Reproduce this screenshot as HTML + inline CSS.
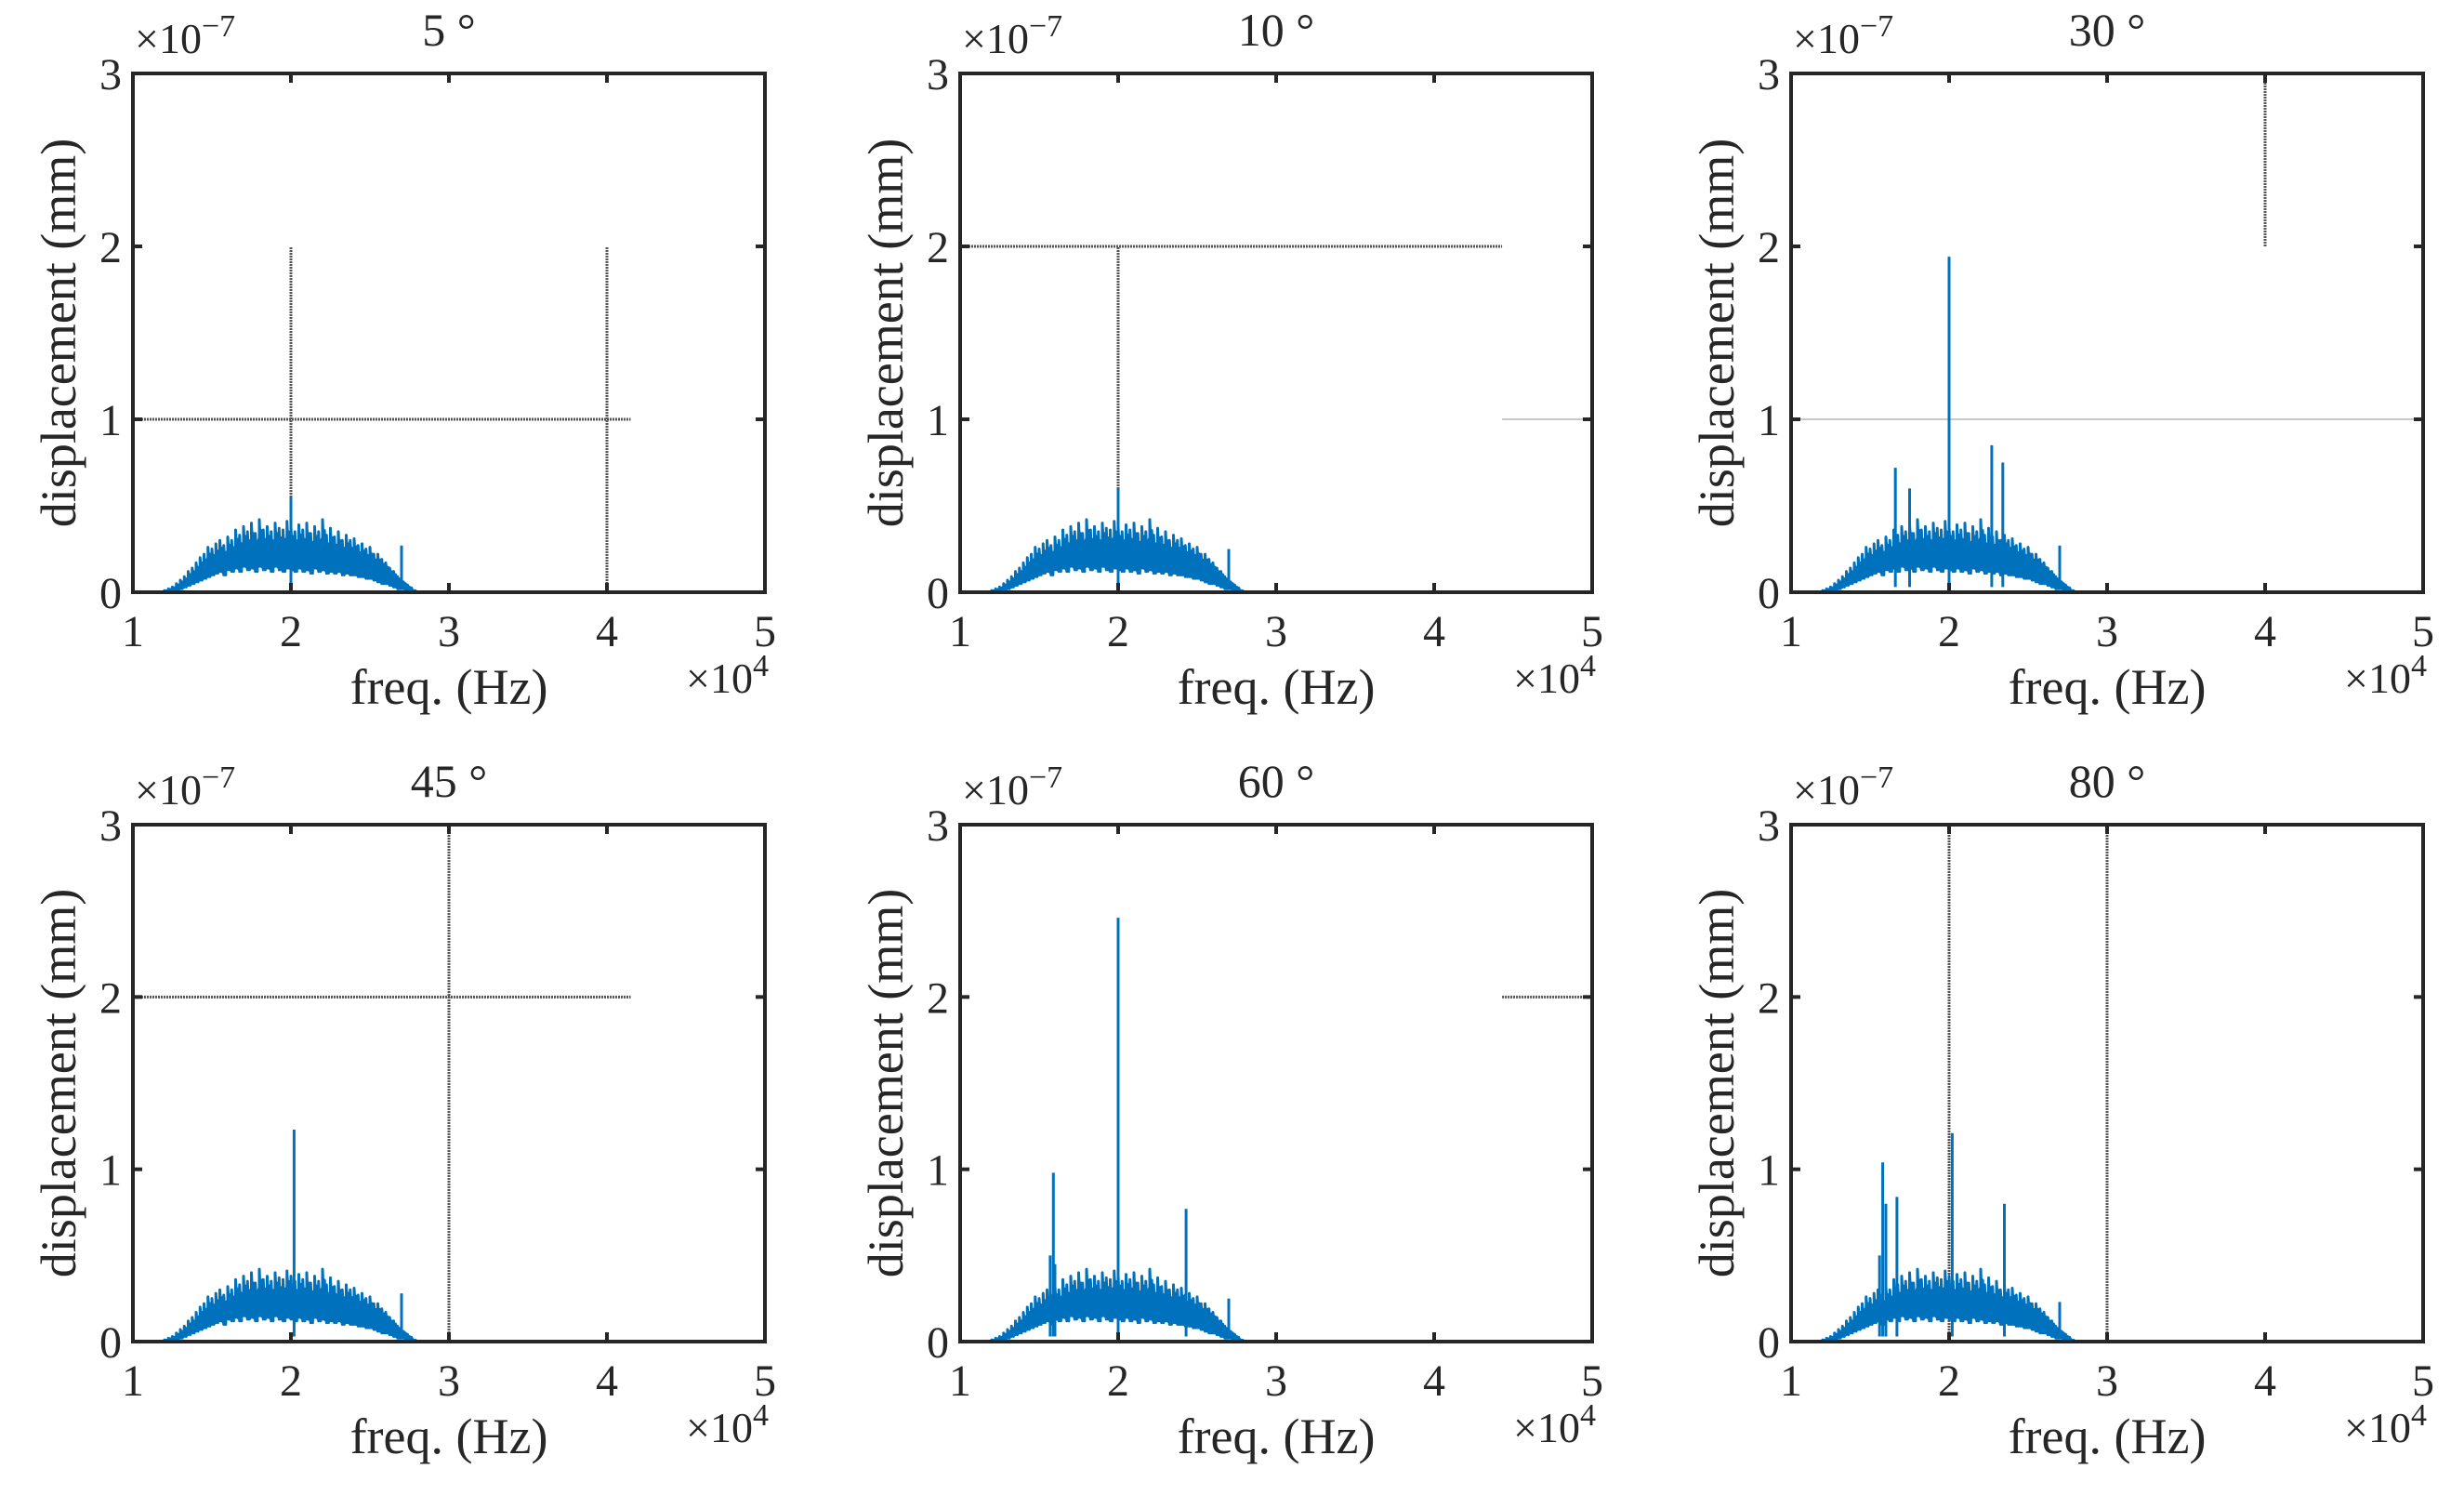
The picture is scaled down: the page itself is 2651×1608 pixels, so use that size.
<!DOCTYPE html>
<html><head><meta charset="utf-8"><style>
html,body{margin:0;padding:0;background:#fff}
svg{display:block}
text{font-family:"Liberation Serif",serif;fill:#262626}
</style></head><body>
<svg id="fig" width="2651" height="1608" viewBox="0 0 2651 1608" xmlns="http://www.w3.org/2000/svg"></svg>
<script>
// shared spectrum bins (Hz) and envelope values (x1e-7 mm)
const binFreqs = [12000,12250,12500,12750,13000,13250,13500,13750,14000,14250,14500,14750,15000,15250,15500,15750,16000,16250,16500,16750,17000,17250,17500,17750,18000,18250,18500,18750,19000,19250,19500,19750,20000,20250,20500,20750,21000,21250,21500,21750,22000,22250,22500,22750,23000,23250,23500,23750,24000,24250,24500,24750,25000,25250,25500,25750,26000,26250,26500,26750,27000,27250,27500,27750];
const upperVals = [0.01,0.02,0.03,0.05,0.07,0.09,0.12,0.14,0.17,0.2,0.22,0.26,0.25,0.28,0.3,0.27,0.32,0.3,0.36,0.33,0.38,0.35,0.4,0.34,0.42,0.36,0.38,0.35,0.4,0.37,0.36,0.41,0.38,0.35,0.39,0.36,0.4,0.34,0.38,0.35,0.42,0.33,0.37,0.32,0.35,0.3,0.33,0.3,0.31,0.27,0.28,0.25,0.26,0.22,0.22,0.19,0.17,0.14,0.12,0.09,0.07,0.05,0.03,0.01];
const lowerVals = [0,0,0,0.01,0.02,0.03,0.04,0.05,0.06,0.07,0.08,0.09,0.1,0.11,0.12,0.1,0.13,0.12,0.14,0.12,0.15,0.13,0.14,0.12,0.15,0.13,0.14,0.12,0.15,0.13,0.12,0.14,0.13,0.12,0.14,0.12,0.13,0.11,0.14,0.12,0.13,0.11,0.12,0.11,0.12,0.1,0.11,0.1,0.1,0.09,0.09,0.08,0.08,0.07,0.06,0.05,0.05,0.04,0.03,0.02,0.02,0.01,0,0];
// panel titles
const titles = ["5 °","10 °","30 °","45 °","60 °","80 °"];
// spikes per panel: frequencies and values
const spikeFreqs = [
 [20000,27000],
 [20000,27000],
 [16600,17500,20000,22700,23400,27000],
 [20200,27000],
 [15700,15900,16000,20000,24300,27000],
 [15600,15800,16000,16700,20200,23500,27000]];
const spikeVals = [
 [0.55,0.27],
 [0.6,0.25],
 [0.72,0.6,1.94,0.85,0.75,0.27],
 [1.23,0.28],
 [0.5,0.98,0.45,2.46,0.77,0.25],
 [0.5,1.04,0.8,0.84,1.21,0.8,0.23]];
// reference lines per panel: [x1,y1,x2,y2,gray?] in data units (x in 1e4 Hz, y in 1e-7)
const refLines = [
 [[1,1,4.15,1,0],[2,0,2,2,0],[4,0,4,2,0]],
 [[1,2,4.43,2,0],[2,0,2,2,0],[4.43,1,5,1,1]],
 [[4,2,4,3,0],[1,1,5,1,1]],
 [[1,2,4.15,2,0],[3,0,3,3,0]],
 [[4.43,2,5,2,0]],
 [[2,0,2,3,0],[3,0,3,3,0]]];
const xTicks = [1,2,3,4,5];
const yTicks = [0,1,2,3];

const NS="http://www.w3.org/2000/svg";
const svg=document.getElementById('fig');
function mk(tag,attrs,parent){const e=document.createElementNS(NS,tag);for(const k in attrs)e.setAttribute(k,attrs[k]);(parent||svg).appendChild(e);return e;}
const colL=[143,1033,1927], colW=680;
const rowT=[79,887], rowH=[558,556];
for(let p=0;p<6;p++){
  const L=colL[p%3], T=rowT[Math.floor(p/3)], W=colW, H=rowH[Math.floor(p/3)];
  const g=mk('g',{});
  
  
  const sx=v=>L+(v-1)/4*W;
  const sy=v=>T+H-v/3*H;
  refLines[p].forEach((r,i)=>{
    const l=mk('line',{x1:sx(r[0]),y1:sy(r[1]),x2:sx(r[2]),y2:sy(r[3]),stroke:r[4]?'#c8c8c8':'#555','stroke-width':r[4]?2:3,'stroke-dasharray':r[4]?'none':'2 1'},g);
    
    
  });
  let d='M'+sx(1)+' '+sy(0)+' L'+sx(binFreqs[0]/1e4)+' '+sy(0);
  for(let i=0;i<binFreqs.length;i++){
    const x=sx(binFreqs[i]/1e4), x2=sx((binFreqs[i]+125)/1e4);
    d+=' L'+x+' '+sy(lowerVals[i])+' L'+x+' '+sy(upperVals[i])+' L'+x2+' '+sy(lowerVals[i])+' L'+x2+' '+sy(upperVals[i]*0.85);
  }
  d+=' L'+sx(2.8)+' '+sy(0)+' L'+sx(5)+' '+sy(0);
  let fd='M'+sx(binFreqs[0]/1e4)+' '+sy(0);
  for(let i=0;i<binFreqs.length;i++) fd+=' L'+sx(binFreqs[i]/1e4)+' '+sy(upperVals[i]*0.8);
  for(let i=binFreqs.length-1;i>=0;i--) fd+=' L'+sx(binFreqs[i]/1e4)+' '+sy(lowerVals[i]);
  fd+='Z';
  const fill=mk('path',{d:fd,fill:'#0072BD',stroke:'none'},g);
  
  
  const line=mk('path',{d:d,fill:'none',stroke:'#0072BD','stroke-width':3,'stroke-linejoin':'round'},g);
  
  
  spikeFreqs[p].forEach((f,i)=>{
    const s=mk('line',{x1:sx(f/1e4),y1:sy(0.03),x2:sx(f/1e4),y2:sy(spikeVals[p][i]),stroke:'#0072BD','stroke-width':3},g);
    
    
  });
  const box=mk('rect',{x:L,y:T,width:W,height:H,fill:'none',stroke:'#262626','stroke-width':4},g);
  
  
  xTicks.forEach(t=>{
    const x=sx(t);
    mk('line',{x1:x,y1:T+H,x2:x,y2:T+H-10,stroke:'#262626','stroke-width':4},g);
    mk('line',{x1:x,y1:T,x2:x,y2:T+10,stroke:'#262626','stroke-width':4},g);
    const tx=mk('text',{x:x,y:T+H+58,'font-size':48,'text-anchor':'middle'},g);
    tx.textContent=t;
    
    
  });
  yTicks.forEach(t=>{
    const y=sy(t);
    mk('line',{x1:L,y1:y,x2:L+10,y2:y,stroke:'#262626','stroke-width':4},g);
    mk('line',{x1:L+W,y1:y,x2:L+W-10,y2:y,stroke:'#262626','stroke-width':4},g);
    const ty=mk('text',{x:L-12,y:y+17,'font-size':48,'text-anchor':'end'},g);
    ty.textContent=t;
    
    
  });
  const ye=mk('text',{x:L+2,y:T-22,'font-size':46},g);
  ye.innerHTML='×10<tspan dy="-18" font-size="34">−7</tspan>';
  
  
  const xe=mk('text',{x:L+W+4,y:T+H+108,'font-size':46,'text-anchor':'end'},g);
  xe.innerHTML='×10<tspan dy="-18" font-size="34">4</tspan>';
  
  
  const xl=mk('text',{x:L+W/2,y:T+H+120,'font-size':54,'text-anchor':'middle'},g);
  xl.textContent='freq. (Hz)';
  
  
  const yl=mk('text',{x:0,y:0,'font-size':54,'text-anchor':'middle',transform:'translate('+(L-62)+','+(T+H/2)+') rotate(-90)'},g);
  yl.textContent='displacement (mm)';
  
  
  const tt=mk('text',{x:L+W/2,y:T-30,'font-size':50,'text-anchor':'middle'},g);
  tt.textContent=titles[p];
  
  
}
</script>
</body></html>
